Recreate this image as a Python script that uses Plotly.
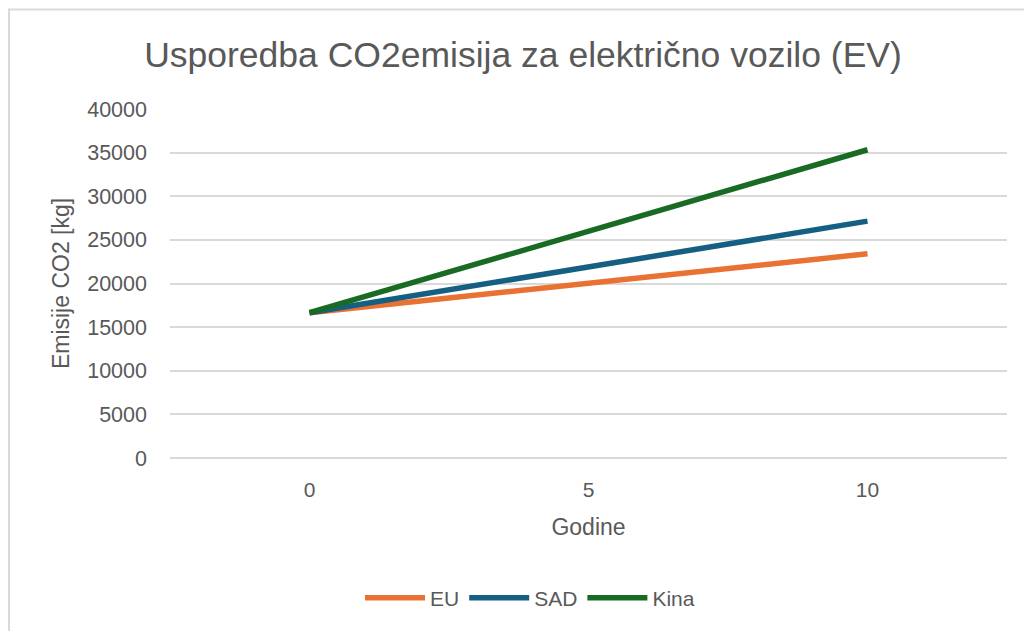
import plotly.graph_objects as go

# podaci očitani s grafa
godine = ["0", "5", "10"]
emisije_eu = [16650, 20030, 23400]
emisije_sad = [16650, 21900, 27150]
emisije_kina = [16650, 26000, 35330]

serije = [
    ("EU", emisije_eu, "#E97132"),
    ("SAD", emisije_sad, "#156082"),
    ("Kina", emisije_kina, "#196B24"),
]

siva = "#595959"
mreza = "#d9d9d9"
font_obitelj = "Liberation Sans, Arial, sans-serif"

fig = go.Figure()
for ime, vrijednosti, boja in serije:
    fig.add_trace(go.Scatter(
        x=godine,
        y=vrijednosti,
        mode="lines",
        name=ime,
        line=dict(color=boja, width=5.5),
    ))

# okvir područja grafikona (kao u Excelu)
fig.add_shape(type="rect", xref="paper", yref="paper",
              x0=(9 - 170) / 837, x1=1.3, y0=-1.0, y1=(458 - 9.5) / 349,
              line=dict(color=mreza, width=2), layer="below")

fig.update_layout(
    width=1024, height=631,
    paper_bgcolor="white", plot_bgcolor="white",
    margin=dict(l=170, r=17, t=109, b=173, autoexpand=False),
    font=dict(family=font_obitelj, color=siva, size=21),
    title=dict(
        text="Usporedba CO2emisija za električno vozilo (EV)",
        x=(143 + 903) / 2 / 1024, xref="container", xanchor="center",
        y=1 - 55 / 631, yref="container", yanchor="middle",
        font=dict(family=font_obitelj, size=35.5, color=siva),
    ),
    xaxis=dict(
        type="category",
        range=[-0.5, 2.5],
        showgrid=False, zeroline=False, showline=False,
        ticks="", ticklabelstandoff=17,
        tickfont=dict(size=21, color=siva),
        title=dict(text="Godine", font=dict(size=23, color=siva), standoff=18),
    ),
    yaxis=dict(
        range=[0, 40000], dtick=5000,
        showgrid=True, gridcolor=mreza, gridwidth=1.5,
        zeroline=True, zerolinecolor=mreza, zerolinewidth=1.5,
        showline=False, ticks="",
        tickformat="d", ticklabelstandoff=22,
        tickfont=dict(size=21.5, color=siva),
        title=dict(text="Emisije CO2 [kg]", font=dict(size=23, color=siva), standoff=11),
    ),
    legend=dict(
        orientation="h",
        x=(530 - 170) / 837, xanchor="center",
        y=(458 - 598) / 349, yanchor="middle",
        font=dict(size=21, color=siva),
        itemwidth=60,
    ),
    showlegend=True,
)

fig.write_html("out.html", config={"displayModeBar": False},
               post_script="document.body.style.margin='0';")
